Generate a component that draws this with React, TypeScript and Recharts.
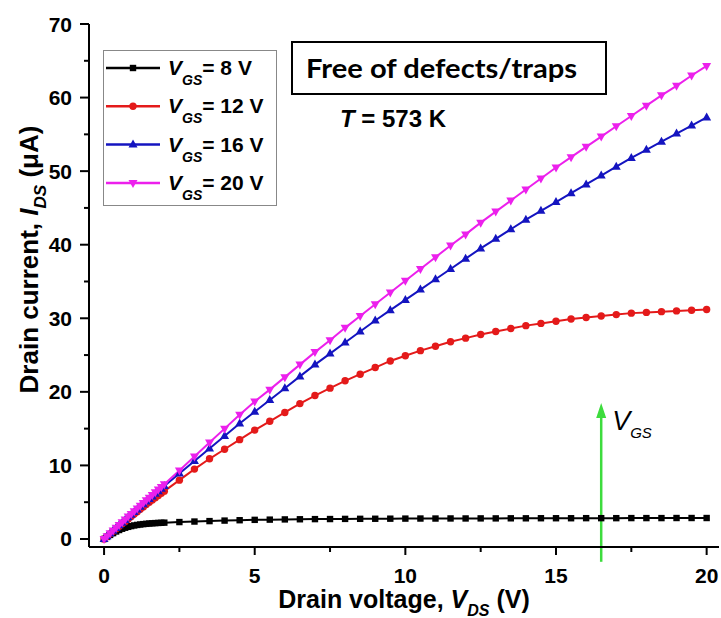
import React from "react";
import { LineChart, Line, XAxis, YAxis, Legend, ReferenceLine } from "recharts";

// drain voltage sweep (V): dense below 2 V, then 0.5 V steps
const vds = [
  0, 0.1, 0.2, 0.3, 0.4, 0.5, 0.6, 0.7, 0.8, 0.9, 1, 1.1, 1.2, 1.3, 1.4, 1.5, 1.6, 1.7, 1.8, 1.9, 2,
  2.5, 3, 3.5, 4, 4.5, 5,
  5.5, 6, 6.5, 7, 7.5, 8, 8.5, 9, 9.5, 10,
  10.5, 11, 11.5, 12, 12.5, 13, 13.5, 14, 14.5, 15,
  15.5, 16, 16.5, 17, 17.5, 18, 18.5, 19, 19.5, 20,
];

// drain current (uA)
const ids8 = [
  0, 0.28, 0.55, 0.8, 1.02, 1.22, 1.39, 1.53, 1.65, 1.75, 1.84, 1.91, 1.97, 2.02, 2.06, 2.1, 2.13, 2.16, 2.18, 2.2, 2.22,
  2.3, 2.37, 2.43, 2.5, 2.55, 2.6,
  2.63, 2.66, 2.68, 2.7, 2.71, 2.73, 2.74, 2.75, 2.76, 2.77,
  2.78, 2.78, 2.79, 2.79, 2.8, 2.8, 2.81, 2.81, 2.82, 2.82,
  2.82, 2.83, 2.83, 2.83, 2.84, 2.84, 2.84, 2.85, 2.85, 2.85,
];
const ids12 = [
  0, 0.35, 0.7, 1.04, 1.38, 1.72, 2.06, 2.39, 2.72, 3.05, 3.38, 3.71, 4.03, 4.35, 4.67, 4.99, 5.3, 5.61, 5.92, 6.22, 6.5,
  8.0, 9.5, 10.9, 12.2, 13.5, 14.8,
  16.0, 17.2, 18.4, 19.5, 20.5, 21.5, 22.4, 23.3, 24.2, 24.9,
  25.6, 26.2, 26.8, 27.3, 27.8, 28.2, 28.6, 29.0, 29.3, 29.6,
  29.9, 30.1, 30.3, 30.5, 30.7, 30.8, 30.9, 31.0, 31.1, 31.2,
];
const ids16 = [
  0, 0.37, 0.74, 1.11, 1.48, 1.85, 2.21, 2.58, 2.94, 3.3, 3.66, 4.02, 4.38, 4.73, 5.09, 5.44, 5.79, 6.14, 6.49, 6.84, 7.19,
  8.9, 10.6, 12.3, 14.0, 15.7, 17.3,
  18.9, 20.5, 22.1, 23.7, 25.2, 26.7, 28.2, 29.7, 31.1, 32.5,
  33.9, 35.3, 36.7, 38.1, 39.5, 40.8, 42.1, 43.4, 44.6, 45.8,
  47.0, 48.2, 49.4, 50.6, 51.8, 52.9, 54.0, 55.1, 56.2, 57.3,
];
const ids20 = [
  0, 0.38, 0.77, 1.15, 1.53, 1.91, 2.29, 2.66, 3.04, 3.41, 3.78, 4.15, 4.52, 4.89, 5.26, 5.62, 5.99, 6.35, 6.71, 7.07, 7.43,
  9.3, 11.2, 13.1, 15.0, 16.9, 18.7,
  20.3, 22.0, 23.7, 25.4, 27.0, 28.7, 30.3, 31.9, 33.5, 35.1,
  36.7, 38.3, 39.9, 41.4, 43.0, 44.5, 46.0, 47.5, 49.0, 50.5,
  51.9, 53.3, 54.7, 56.1, 57.5, 58.9, 60.3, 61.6, 63.0, 64.3,
];

const gateVoltages = [8, 12, 16, 20];
const seriesColors = ["#000000", "#e41a1a", "#1414c0", "#ec20ec"];
const markerKinds = ["square", "circle", "up", "down"];
const xTicks = [0, 2.5, 5, 7.5, 10, 12.5, 15, 17.5, 20];
const yTicks = [0, 5, 10, 15, 20, 25, 30, 35, 40, 45, 50, 55, 60, 65, 70];

const data = vds.map((v, i) => ({
  vds: v,
  g8: ids8[i],
  g12: ids12[i],
  g16: ids16[i],
  g20: ids20[i],
}));
const keys = ["g8", "g12", "g16", "g20"];

const FONT = "'Liberation Sans', Arial, sans-serif";
const GREEN = "#3ddc3d";
const AXIS = { stroke: "#000", strokeWidth: 2 };

function Marker({ kind, cx, cy, color }: any) {
  if (cx == null || cy == null) return null;
  if (kind === "square")
    return <rect x={cx - 3.2} y={cy - 3.2} width={6.4} height={6.4} fill={color} />;
  if (kind === "circle") return <circle cx={cx} cy={cy} r={3.7} fill={color} />;
  if (kind === "up")
    return <polygon points={`${cx},${cy - 5} ${cx - 4.5},${cy + 3} ${cx + 4.5},${cy + 3}`} fill={color} />;
  return <polygon points={`${cx},${cy + 5} ${cx - 4.5},${cy - 3} ${cx + 4.5},${cy - 3}`} fill={color} />;
}

const BottomTick = ({ x, y, payload }: any) => {
  const major = payload.value % 5 === 0;
  return (
    <g>
      <line x1={x} y1={y} x2={x} y2={y + (major ? 8 : 5)} stroke="#000" strokeWidth={2} />
      {major && (
        <text x={x} y={y + 36} textAnchor="middle" fontFamily={FONT} fontWeight="bold" fontSize={21} fill="#000">
          {payload.value}
        </text>
      )}
    </g>
  );
};

const TopTick = ({ x, y, payload }: any) => (
  <line x1={x} y1={y} x2={x} y2={y + (payload.value % 5 === 0 ? 9 : 5)} stroke="#000" strokeWidth={2} />
);

const LeftTick = ({ x, y, payload }: any) => {
  const major = payload.value % 10 === 0;
  return (
    <g>
      <line x1={x} y1={y} x2={x - (major ? 9 : 5)} y2={y} stroke="#000" strokeWidth={2} />
      {major && (
        <text x={x - 17} y={y + 7.5} textAnchor="end" fontFamily={FONT} fontWeight="bold" fontSize={21} fill="#000">
          {payload.value}
        </text>
      )}
    </g>
  );
};

const RightTick = ({ x, y, payload }: any) => (
  <line x1={x} y1={y} x2={x - (payload.value % 10 === 0 ? 9 : 5)} y2={y} stroke="#000" strokeWidth={2} />
);

const ArrowShape = (p: any) => {
  const x = p.x1;
  const top = Math.min(p.y1, p.y2);
  const bottom = Math.max(p.y1, p.y2);
  return (
    <g>
      <line x1={x} y1={bottom} x2={x} y2={top + 10} stroke={GREEN} strokeWidth={2.5} />
      <polygon points={`${x},${top} ${x - 5},${top + 15} ${x + 5},${top + 15}`} fill={GREEN} />
      <text x={x + 11} y={top + 27} fontFamily={FONT} fontStyle="italic" fontSize={27} fill="#000">
        V<tspan fontSize={15} dy={8}>GS</tspan>
      </text>
    </g>
  );
};

const renderLegend = (props: any) => {
  const items = [...(props.payload || [])].sort(
    (a: any, b: any) => keys.indexOf(a.dataKey) - keys.indexOf(b.dataKey)
  );
  return (
    <svg width={174} height={156} style={{ display: "block" }}>
      <rect x={0.5} y={0.5} width={173} height={155} fill="#fff" stroke="#888" />
      {items.map((it: any) => {
        const i = keys.indexOf(it.dataKey);
        const cy = 18 + i * 38.3;
        return (
          <g key={it.dataKey}>
            <line x1={3} y1={cy} x2={57} y2={cy} stroke={seriesColors[i]} strokeWidth={2.5} />
            <Marker kind={markerKinds[i]} cx={30} cy={cy} color={seriesColors[i]} />
            <text x={65} y={cy + 7} fontFamily={FONT} fontWeight="bold" fontSize={21} fill="#000">
              <tspan fontStyle="italic">V</tspan>
              <tspan fontStyle="italic" fontSize={14} dy={10}>GS</tspan>
              <tspan dy={-10}>= {gateVoltages[i]} V</tspan>
            </text>
          </g>
        );
      })}
    </svg>
  );
};

export default function App() {
  return (
    <div style={{ position: "absolute", left: 0, top: 0, width: 721, height: 618, background: "#fff" }}>
      <LineChart width={721} height={618} data={data} margin={{ top: 24, right: 2, bottom: 41, left: 39 }}>
        <XAxis
          xAxisId="b"
          dataKey="vds"
          type="number"
          domain={[-0.5, 20.41]}
          allowDataOverflow
          ticks={xTicks}
          interval={0}
          height={30}
          tickSize={0}
          tickMargin={0}
          tickLine={false}
          axisLine={AXIS}
          tick={<BottomTick />}
        />
        <XAxis
          xAxisId="t"
          orientation="top"
          dataKey="vds"
          type="number"
          domain={[-0.5, 20.41]}
          allowDataOverflow
          ticks={xTicks}
          interval={0}
          height={0}
          tickSize={0}
          tickMargin={0}
          tickLine={false}
          axisLine={AXIS}
          tick={<TopTick />}
        />
        <YAxis
          yAxisId="l"
          type="number"
          domain={[-1.09, 70]}
          allowDataOverflow
          ticks={yTicks}
          interval={0}
          width={50}
          tickSize={0}
          tickMargin={0}
          tickLine={false}
          axisLine={AXIS}
          tick={<LeftTick />}
        />
        <YAxis
          yAxisId="r"
          orientation="right"
          type="number"
          domain={[-1.09, 70]}
          allowDataOverflow
          ticks={yTicks}
          interval={0}
          width={0}
          tickSize={0}
          tickMargin={0}
          tickLine={false}
          axisLine={AXIS}
          tick={<RightTick />}
        />
        <Legend
          layout="horizontal"
          align="center"
          verticalAlign="middle"
          content={renderLegend}
          wrapperStyle={{ left: 103, top: 50, width: 174, height: 156 }}
        />
        {keys.map((k, i) => (
          <Line
            key={k}
            xAxisId="b"
            yAxisId="l"
            type="linear"
            dataKey={k}
            name={`VGS = ${gateVoltages[i]} V`}
            stroke={seriesColors[i]}
            strokeWidth={2}
            isAnimationActive={false}
            activeDot={false}
            dot={(p: any) => (
              <Marker key={`${k}-${p.index}`} kind={markerKinds[i]} cx={p.cx} cy={p.cy} color={seriesColors[i]} />
            )}
          />
        ))}
        <ReferenceLine
          xAxisId="b"
          yAxisId="l"
          segment={[
            { x: 16.5, y: -3.1 },
            { x: 16.5, y: 18.5 },
          ]}
          ifOverflow="visible"
          shape={ArrowShape}
        />
      </LineChart>
      <svg width={721} height={618} style={{ position: "absolute", left: 0, top: 0, pointerEvents: "none" }}>
        <rect x={292} y={42} width={314} height={52} fill="none" stroke="#000" strokeWidth={2} />
        <text
          x={306}
          y={78}
          fontFamily="Lato, 'Open Sans', sans-serif"
          fontWeight="bold"
          fontSize={27}
          textLength={271}
          lengthAdjust="spacingAndGlyphs"
          fill="#000"
        >
          Free of defects/traps
        </text>
        <text x={340} y={127} fontFamily={FONT} fontWeight="bold" fontSize={24} fill="#000">
          <tspan fontStyle="italic">T</tspan> = 573 K
        </text>
        <text x={404} y={608} textAnchor="middle" fontFamily={FONT} fontWeight="bold" fontSize={25} fill="#000">
          Drain voltage, <tspan fontStyle="italic">V</tspan>
          <tspan fontStyle="italic" fontSize={16} dy={8}>DS</tspan>
          <tspan dy={-8}> (V)</tspan>
        </text>
        <text
          transform="translate(38,259.5) rotate(-90)"
          textAnchor="middle"
          fontFamily={FONT}
          fontWeight="bold"
          fontSize={26}
          fill="#000"
        >
          Drain current, <tspan fontStyle="italic">I</tspan>
          <tspan fontStyle="italic" fontSize={17} dy={8}>DS</tspan>
          <tspan dy={-8}> (μA)</tspan>
        </text>
      </svg>
    </div>
  );
}
